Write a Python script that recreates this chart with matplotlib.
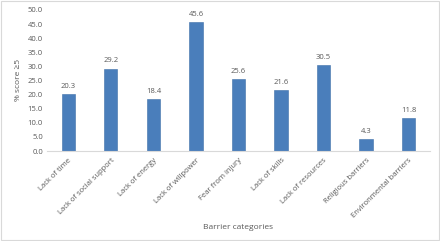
import matplotlib.pyplot as plt

categories = ['Lack of time', 'Lack of social support', 'Lack of energy',
              'Lack of willpower', 'Fear from injury', 'Lack of skills',
              'Lack of resources', 'Religious barriers', 'Environmental barriers']
values = [20.3, 29.2, 18.4, 45.6, 25.6, 21.6, 30.5, 4.3, 11.8]
yticks = [0, 5, 10, 15, 20, 25, 30, 35, 40, 45, 50]

plt.rcParams['font.family'] = ['Open Sans', 'DejaVu Sans']
txt = '#595959'

fig = plt.figure(figsize=(4.4, 2.41), dpi=100)
ax = fig.add_axes([0.107, 0.373, 0.87, 0.586])
x = range(len(categories))
ax.bar(x, values, width=0.31, color='#4a7ebb', edgecolor='#3f6fa8', linewidth=0.4)
for i, v in zip(x, values):
    ax.text(i, v + 1.5, f'{v:.1f}', ha='center', va='bottom', fontsize=5.5, color=txt)

ax.set_xlim(-0.5, len(categories) - 0.5)
ax.set_ylim(0, 50)
ax.set_yticks(yticks)
ax.set_yticklabels([f'{t:.1f}' for t in yticks], fontsize=5.5, color=txt)
ax.set_xticks(list(x))
ax.set_xticklabels(categories, rotation=45, ha='right', rotation_mode='anchor',
                   fontsize=5.5, color=txt)
ax.tick_params(axis='x', length=0, pad=4)
ax.tick_params(axis='y', length=0, pad=3)
for s in ['top', 'right', 'left']:
    ax.spines[s].set_visible(False)
ax.spines['bottom'].set_color('#d9d9d9')
ax.spines['bottom'].set_linewidth(0.8)

ax.set_ylabel('% score \u22655', fontsize=6, color=txt, labelpad=4)
fig.text(0.54, 0.05, 'Barrier categories', ha='center', fontsize=6, color=txt)

fig.patches.append(plt.Rectangle((0.002, 0.004), 0.996, 0.992, transform=fig.transFigure,
                                 fill=False, edgecolor='#d9d9d9', linewidth=0.8))
fig.savefig('out.png', dpi=100)
